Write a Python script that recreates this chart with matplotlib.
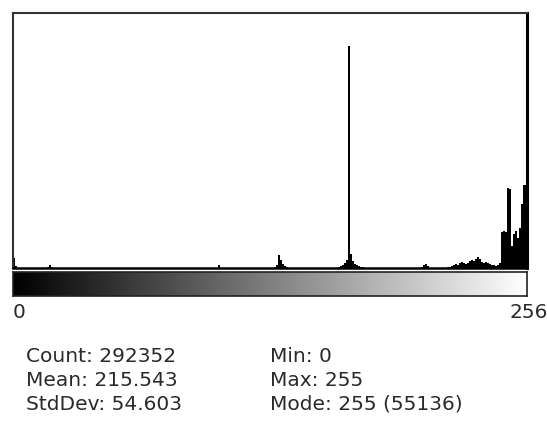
import numpy as np
import matplotlib
matplotlib.use("Agg")
import matplotlib.pyplot as plt

# histogram bins that are not empty (heights, in box pixels)
bins = [0, 1, 17, 18, 19, 102,
        130, 131, 132, 133, 134, 135, 136,
        162, 163, 164, 165, 166, 167, 168, 169, 170, 171, 172, 173, 174,
        203, 204, 205, 206,
        216, 217, 218, 219, 220, 221, 222, 223, 224, 225, 226, 227, 228,
        229, 230, 231, 232, 233, 234, 235, 236, 237, 238, 239, 240, 241,
        242, 243, 244, 245, 246, 247, 248, 249, 250, 251, 252, 253, 254, 255]
heights = [10, 2, 1, 3, 1, 3,
           1, 3, 13, 8, 4, 2, 1,
           1, 2, 3, 5, 8, 222, 14, 7, 4, 3, 2, 1, 1,
           1, 3, 4, 2,
           1, 1, 2, 3, 4, 3, 5, 6, 5, 4, 5, 7, 8,
           7, 9, 11, 9, 6, 5, 6, 5, 4, 3, 3, 2, 3,
           5, 36, 37, 36, 80, 79, 22, 34, 37, 30, 40, 64, 83, 83]

left_label = "0"
right_label = "256"
stats_left = ["Count: 292352", "Mean: 215.543", "StdDev: 54.603"]
stats_right = ["Min: 0", "Max: 255", "Mode: 255 (55136)"]

W, H = 547, 434
fig = plt.figure(figsize=(W / 100, H / 100), dpi=100)
fig.patch.set_facecolor("white")

def px_axes(x0, y0, x1, y1):
    return fig.add_axes([x0 / W, 1 - y1 / H, (x1 - x0) / W, (y1 - y0) / H])

# histogram box
ax = px_axes(13, 13, 527, 268)
ax.bar(bins, heights, width=1.0, align="edge", color="black", linewidth=0)
ax.set_xlim(0, 256)
ax.set_ylim(0, 255)
ax.set_xticks([])
ax.set_yticks([])
for s in ["left", "top"]:
    ax.spines[s].set_color("#333333")
    ax.spines[s].set_linewidth(1.5)
ax.spines["right"].set_color("black")
ax.spines["right"].set_linewidth(2.2)
ax.spines["bottom"].set_color("black")
ax.spines["bottom"].set_linewidth(1.8)

# grey ramp under the histogram
gax = px_axes(13, 272, 527, 296)
ramp = np.linspace(0, 1, 256).reshape(1, -1)
gax.imshow(ramp, cmap="gray", aspect="auto", extent=[0, 256, 0, 1], vmin=0, vmax=1)
gax.set_xticks([])
gax.set_yticks([])
for s in gax.spines.values():
    s.set_color("#222222")
    s.set_linewidth(1.2)

font = dict(family="DejaVu Sans", size=14.5, color="#2a2a2a")
fig.text(13 / W, 1 - 313 / H, left_label, ha="left", va="center", **font)
fig.text(548 / W, 1 - 313 / H, right_label, ha="right", va="center", **font)

for i, (a, b) in enumerate(zip(stats_left, stats_right)):
    y = 1 - (356 + 24 * i) / H
    fig.text(26 / W, y, a, ha="left", va="center", **font)
    fig.text(270 / W, y, b, ha="left", va="center", **font)

fig.savefig("out.png", dpi=100, facecolor="white")
